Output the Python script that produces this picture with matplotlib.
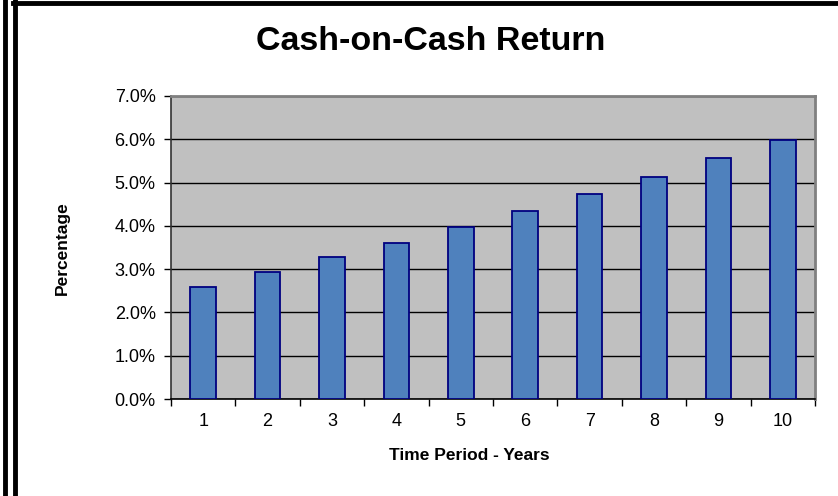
import matplotlib
matplotlib.use("Agg")
from matplotlib import pyplot as plt
from matplotlib.lines import Line2D
from matplotlib.ticker import FuncFormatter, FixedLocator

plt.rcParams['font.family'] = ['Liberation Sans', 'DejaVu Sans']

years = [1, 2, 3, 4, 5, 6, 7, 8, 9, 10]
returns = [2.59, 2.93, 3.27, 3.61, 3.97, 4.35, 4.74, 5.14, 5.56, 5.98]
yticks = [0, 1, 2, 3, 4, 5, 6, 7]

W, H = 838, 496
fig = plt.figure(figsize=(W / 100, H / 100), dpi=100)
fig.patch.set_facecolor("white")

# plot area in pixels: left 171, right 815, top 96, bottom 399
ax = fig.add_axes([171 / W, 1 - 399 / H, 644 / W, 303 / H])
ax.set_facecolor("#C0C0C0")

xs = list(range(len(years)))
ax.bar(xs, returns, width=0.4, color="#4F81BD", edgecolor="#000080", linewidth=1.3, zorder=3)

ax.set_xlim(-0.5, len(years) - 0.5)
ax.set_ylim(0, 7)
ax.set_yticks(yticks)
ax.yaxis.set_major_formatter(FuncFormatter(lambda v, p: "%.1f%%" % v))
ax.grid(axis="y", color="black", linewidth=1.0, zorder=1)
ax.set_axisbelow(True)

# Excel style: ticks between categories, labels centered
ax.xaxis.set_major_locator(FixedLocator([x - 0.5 for x in range(len(years) + 1)]))
ax.xaxis.set_major_formatter(FuncFormatter(lambda v, p: ""))
ax.xaxis.set_minor_locator(FixedLocator(xs))
ax.set_xticklabels([str(y) for y in years], minor=True)
ax.tick_params(axis="x", which="major", direction="out", length=5, width=1, color="black")
ax.tick_params(axis="x", which="minor", length=0, pad=10, labelsize=13)
ax.tick_params(axis="y", direction="out", length=5, width=1, color="black", pad=6, labelsize=13)

for side in ["top", "right"]:
    ax.spines[side].set_color("#808080")
    ax.spines[side].set_linewidth(2)
ax.spines["left"].set_color("#333333")
ax.spines["bottom"].set_color("black")
ax.spines["left"].set_linewidth(1.2)
ax.spines["bottom"].set_linewidth(1.2)

fig.text(431 / W, 1 - 42 / H, "Cash-on-Cash Return", ha="center", va="center",
         fontsize=24.5, fontweight="bold")
fig.text(469 / W, 1 - 455 / H, "Time Period - Years", ha="center", va="center",
         fontsize=12.5, fontweight="bold")
fig.text(62 / W, 1 - 248 / H, "Percentage", ha="center", va="center",
         fontsize=12.5, fontweight="bold", rotation=90)

# borders around the chart area
fig.add_artist(Line2D([5 / W, 5 / W], [0, 1], color="black", linewidth=3.5, transform=fig.transFigure))
fig.add_artist(Line2D([15 / W, 15 / W], [0, 1 - 1 / H], color="black", linewidth=3.5, transform=fig.transFigure))
fig.add_artist(Line2D([13 / W, 1], [1 - 3 / H, 1 - 3 / H], color="black", linewidth=3.5, transform=fig.transFigure))

fig.savefig("out.png", dpi=100)
